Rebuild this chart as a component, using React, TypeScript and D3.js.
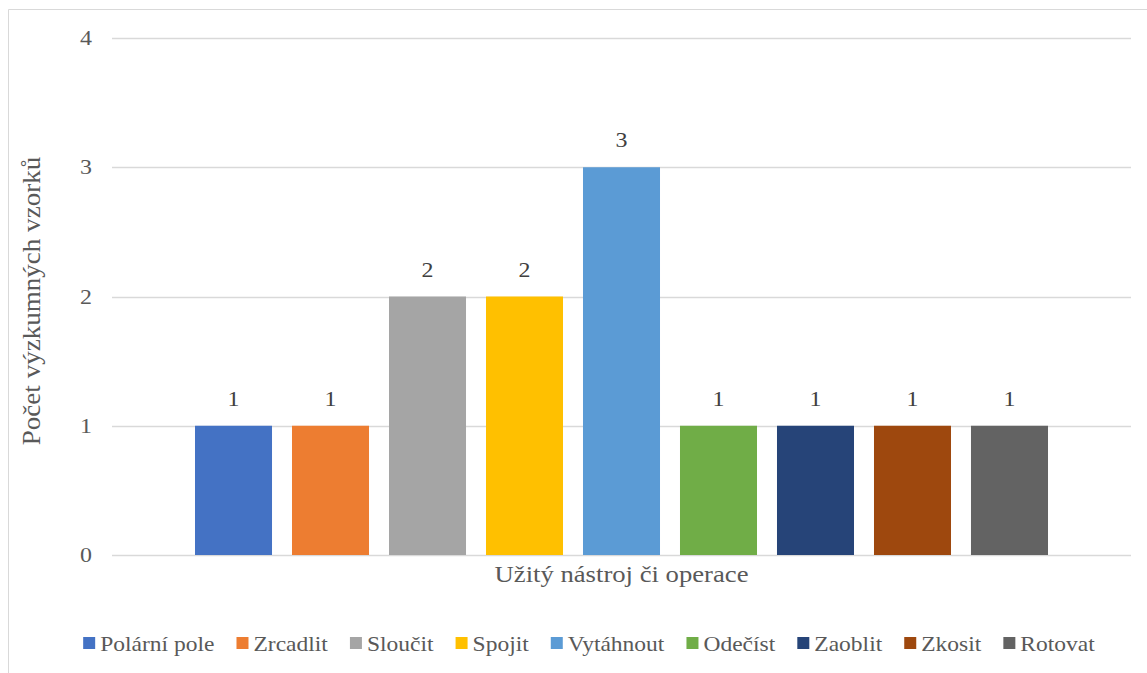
import React from "react";
import * as d3 from "d3";

const seriesNames = ["Polární pole", "Zrcadlit", "Sloučit", "Spojit", "Vytáhnout", "Odečíst", "Zaoblit", "Zkosit", "Rotovat"];
const seriesValues = [1, 1, 2, 2, 3, 1, 1, 1, 1];
const seriesColors = ["#4472C4", "#ED7D31", "#A5A5A5", "#FFC000", "#5B9BD5", "#70AD47", "#264478", "#9E480E", "#636363"];
const categories = ["Užitý nástroj či operace"];
const yTicks = [0, 1, 2, 3, 4];
const yTitle = "Počet výzkumných vzorků";
const xTitle = "Užitý nástroj či operace";

const W = 1147;
const H = 673;
const FONT = "Liberation Serif";
const SX = 1.14; // horizontal stretch of the reference's text
const SX_LEGEND = 1.12;
const SX_TITLE = 1.16;
const S_YTITLE = 1.23;

function measure(text: string, size: number): number {
  const c = document.createElement("canvas").getContext("2d");
  if (!c) return text.length * size * 0.45;
  c.font = `${size}px "${FONT}"`;
  return c.measureText(text).width;
}

export default function App() {
  const left = 112, right = 1131, top = 38, bottom = 555;
  const y = d3.scaleLinear().domain([0, 4]).range([bottom, top]);
  const x0 = d3.scaleBand<string>().domain(categories).range([left, right]).paddingInner(0).paddingOuter(0.0973);
  const x1 = d3.scaleBand<string>().domain(seriesNames).range([0, x0.bandwidth()]).paddingInner(0.206).paddingOuter(0);
  const gx = x0(categories[0]) ?? 0;

  const legendSize = 21;
  const widths = seriesNames.map(n => measure(n, legendSize) * SX_LEGEND);
  const pos: number[] = [];
  let cx = 0;
  widths.forEach(w => { pos.push(cx); cx += 17 + w + 22; });
  const total = cx - 22;
  const legendStart = 589 - total / 2;

  const txt = { fontFamily: FONT } as React.CSSProperties;

  return (
    <svg width={W} height={H} style={{ display: "block", position: "absolute", left: 0, top: 0, background: "#fff" }}>
      <path d={`M8.5,${H} L8.5,9.5 L${W},9.5`} fill="none" stroke="#D9D9D9" strokeWidth={1} />
      {yTicks.map(t => (
        <line key={t} x1={left} x2={right} y1={Math.round(y(t)) + 0.5} y2={Math.round(y(t)) + 0.5} stroke="#D9D9D9" strokeWidth={1.5} />
      ))}
      {yTicks.map(t => (
        <text key={"t" + t} transform={`translate(92,${y(t) + 7}) scale(${SX},1)`} textAnchor="end" fontSize={21} fill="#595959" style={txt}>{t}</text>
      ))}
      <g transform={`translate(${gx},0)`}>
        {seriesNames.map((n, i) => (
          <rect key={n} x={x1(n)} width={x1.bandwidth()} y={y(seriesValues[i])} height={y(0) - y(seriesValues[i])} fill={seriesColors[i]} />
        ))}
        {seriesNames.map((n, i) => (
          <text key={"l" + n} transform={`translate(${(x1(n) ?? 0) + x1.bandwidth() / 2},${y(seriesValues[i]) - 20}) scale(${SX},1)`} textAnchor="middle" fontSize={21} fill="#404040" style={txt}>{seriesValues[i]}</text>
        ))}
      </g>
      <text transform={`translate(${(left + right) / 2},582) scale(${SX_TITLE},1)`} textAnchor="middle" fontSize={23} fill="#595959" style={txt}>{xTitle}</text>
      <text transform={`translate(40,301) rotate(-90) scale(${S_YTITLE},${SX})`} textAnchor="middle" fontSize={22} fill="#595959" style={txt}>{yTitle}</text>
      {seriesNames.map((n, i) => (
        <g key={"lg" + n} transform={`translate(${legendStart + pos[i]},643)`}>
          <rect x={0} y={-6} width={12} height={12} fill={seriesColors[i]} />
          <text transform={`translate(17,8) scale(${SX_LEGEND},1)`} fontSize={legendSize} fill="#595959" style={txt}>{n}</text>
        </g>
      ))}
    </svg>
  );
}
